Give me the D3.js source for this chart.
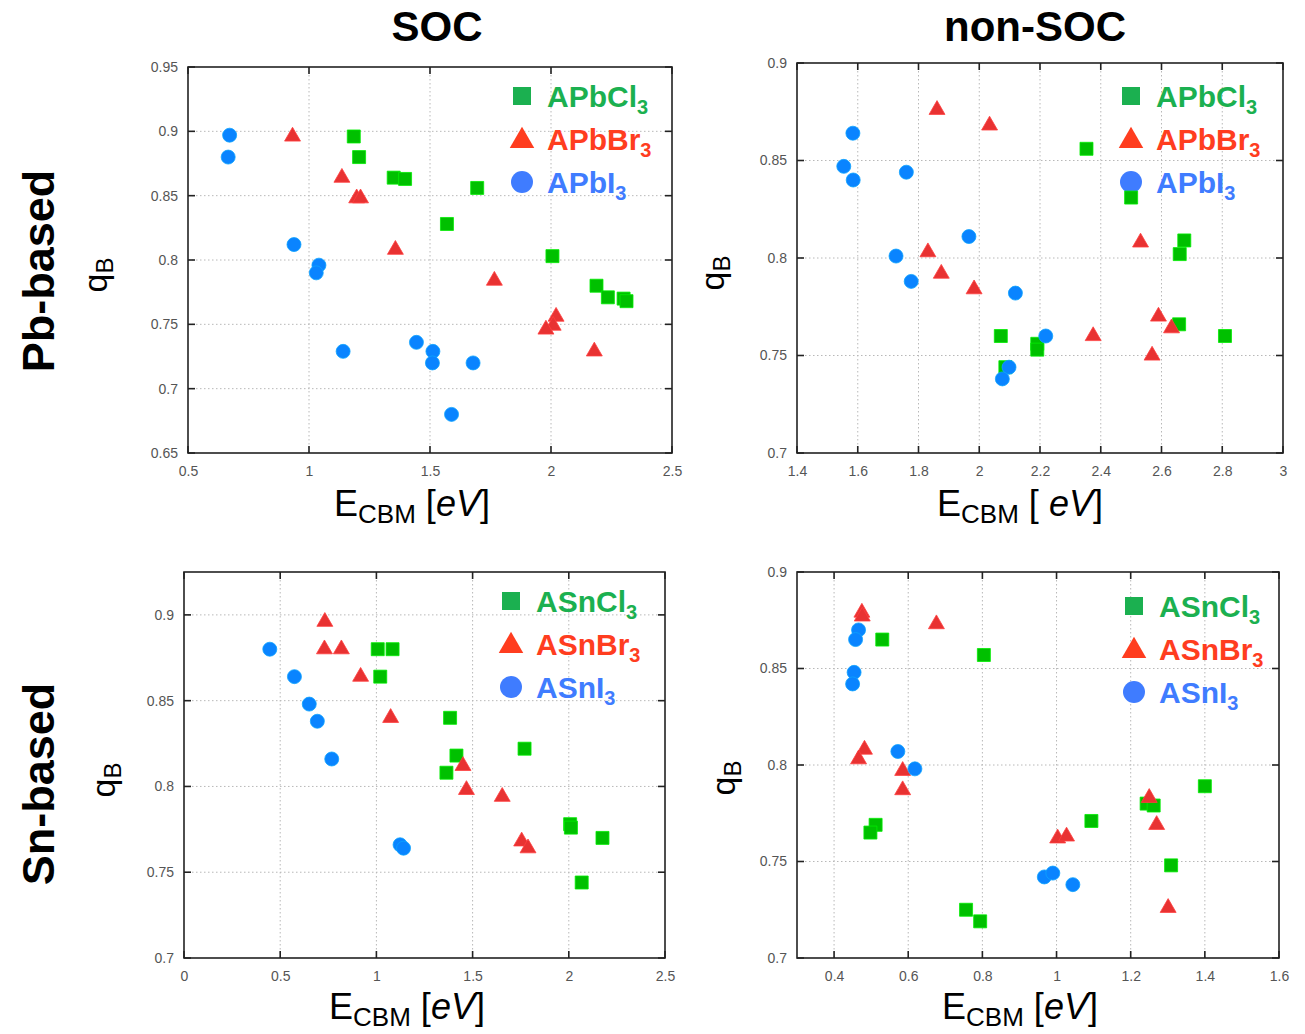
<!DOCTYPE html>
<html lang="en">
<head>
<meta charset="UTF-8">
<title>qB vs ECBM</title>
<style>
  body, html { margin: 0; padding: 0; background: #fff; }
  svg { display: block; }
  .tick-label { font-family: Arial, 'Liberation Sans', sans-serif; font-size: 14px; fill: #555; }
  .grid { stroke: #b8b8b8; stroke-width: 1; stroke-dasharray: 1.5 2.5; }
  .frame { fill: none; stroke: #222; stroke-width: 1.6; }
  .head { font-family: 'Liberation Sans', Arial, sans-serif; font-weight: bold; fill: #000; }
  .axis-title { font-family: Arial, 'Liberation Sans', sans-serif; fill: #000; }
  .legend-text { font-family: Arial, 'Liberation Sans', sans-serif; font-weight: bold; font-size: 30px; }
</style>
</head>
<body>
<div id="chart"></div>
<script src="https://d3js.org/d3.v7.min.js"></script>
<script>
// ---- data: [E_CBM (eV), qB] ----
const socPbCl = [[1.185,0.896],[1.207,0.880],[1.350,0.864],[1.397,0.863],[1.695,0.856],[1.570,0.828],[2.006,0.803],[2.188,0.780],[2.235,0.771],[2.300,0.770],[2.312,0.768]];
const socPbBr = [[0.932,0.896],[1.136,0.864],[1.197,0.848],[1.213,0.848],[1.357,0.808],[1.766,0.784],[2.021,0.756],[2.009,0.749],[1.979,0.746],[2.179,0.729]];
const socPbI  = [[0.672,0.897],[0.666,0.880],[0.938,0.812],[1.041,0.796],[1.030,0.790],[1.141,0.729],[1.444,0.736],[1.512,0.729],[1.510,0.720],[1.678,0.720],[1.589,0.680]];

const nonPbCl = [[2.353,0.856],[2.500,0.831],[2.675,0.809],[2.660,0.802],[2.658,0.766],[2.809,0.760],[2.071,0.760],[2.191,0.756],[2.191,0.753],[2.086,0.744]];
const nonPbBr = [[1.861,0.876],[2.034,0.868],[1.831,0.803],[1.875,0.792],[1.983,0.784],[2.531,0.808],[2.590,0.770],[2.375,0.760],[2.633,0.764],[2.569,0.750]];
const nonPbI  = [[1.584,0.864],[1.554,0.847],[1.585,0.840],[1.760,0.844],[1.966,0.811],[1.726,0.801],[1.776,0.788],[2.119,0.782],[2.219,0.760],[2.098,0.744],[2.076,0.738]];

const socSnCl = [[1.007,0.880],[1.084,0.880],[1.020,0.864],[1.383,0.840],[1.416,0.818],[1.364,0.808],[1.770,0.822],[2.007,0.778],[2.011,0.776],[2.175,0.770],[2.067,0.744]];
const socSnBr = [[0.732,0.896],[0.730,0.880],[0.818,0.880],[0.918,0.864],[1.074,0.840],[1.450,0.812],[1.468,0.798],[1.654,0.794],[1.755,0.768],[1.788,0.764]];
const socSnI  = [[0.446,0.880],[0.574,0.864],[0.651,0.848],[0.693,0.838],[0.768,0.816],[1.123,0.766],[1.141,0.764]];

const nonSnCl = [[0.530,0.865],[0.804,0.857],[0.512,0.769],[0.498,0.765],[1.094,0.771],[1.243,0.780],[1.262,0.779],[1.400,0.789],[1.309,0.748],[0.756,0.725],[0.794,0.719]];
const nonSnBr = [[0.475,0.879],[0.476,0.877],[0.676,0.873],[0.482,0.808],[0.466,0.803],[0.585,0.797],[0.585,0.787],[1.250,0.783],[1.270,0.769],[1.003,0.762],[1.027,0.763],[1.301,0.726]];
const nonSnI  = [[0.466,0.870],[0.458,0.865],[0.454,0.848],[0.450,0.842],[0.572,0.807],[0.618,0.798],[0.967,0.742],[0.990,0.744],[1.044,0.738]];

const pbNames = ["APbCl", "APbBr", "APbI"];
const snNames = ["ASnCl", "ASnBr", "ASnI"];

const ticksX1 = [0.5, 1, 1.5, 2, 2.5];
const ticksY1 = [0.65, 0.7, 0.75, 0.8, 0.85, 0.9, 0.95];
const ticksX2 = [1.4, 1.6, 1.8, 2, 2.2, 2.4, 2.6, 2.8, 3];
const ticksY2 = [0.7, 0.75, 0.8, 0.85, 0.9];
const ticksX3 = [0, 0.5, 1, 1.5, 2, 2.5];
const ticksY3 = [0.7, 0.75, 0.8, 0.85, 0.9];
const ticksX4 = [0.4, 0.6, 0.8, 1, 1.2, 1.4, 1.6];
const ticksY4 = [0.7, 0.75, 0.8, 0.85, 0.9];

const colTitles = ["SOC", "non-SOC"];
const rowTitles = ["Pb-based", "Sn-based"];

// marker colours / legend colours (legend glyphs are a bit lighter)
const markFill = ["#00c000", "#e83232", "#0a84ff"];
const legFill  = ["#1bb050", "#ff3d1f", "#3f7cff"];

const W = 1305, H = 1034;
const svg = d3.select("#chart").append("svg").attr("width", W).attr("height", H);

const panels = [
  { box: [188, 672, 67, 453], xd: [0.5, 2.5], yd: [0.65, 0.95], xt: ticksX1, yt: ticksY1,
    series: [socPbCl, socPbBr, socPbI], names: pbNames, leg: [522, 96], xl: [412, 516], xSpace: false, yl: [107, 275] },
  { box: [797, 1283, 63, 453], xd: [1.4, 3], yd: [0.7, 0.9], xt: ticksX2, yt: ticksY2,
    series: [nonPbCl, nonPbBr, nonPbI], names: pbNames, leg: [1131, 96], xl: [1020, 516], xSpace: true, yl: [724, 273] },
  { box: [184, 665, 572, 958], xd: [0, 2.5], yd: [0.7, 0.925], xt: ticksX3, yt: ticksY3,
    series: [socSnCl, socSnBr, socSnI], names: snNames, leg: [511, 601], xl: [407, 1019], xSpace: false, yl: [115, 780] },
  { box: [797, 1279, 572, 958], xd: [0.3, 1.6], yd: [0.7, 0.9], xt: ticksX4, yt: ticksY4,
    series: [nonSnCl, nonSnBr, nonSnI], names: snNames, leg: [1134, 606], xl: [1020, 1019], xSpace: false, yl: [735, 778] }
];

const fmt = d3.format("~g");
const symbols = [d3.symbolSquare, d3.symbolTriangle, d3.symbolCircle];
const markSize = [169, 110, 154];
const legSize = [324, 260, 380];

panels.forEach(p => {
  const [x0, x1, y0, y1] = p.box;
  const x = d3.scaleLinear().domain(p.xd).range([x0, x1]);
  const y = d3.scaleLinear().domain(p.yd).range([y1, y0]);
  const g = svg.append("g");

  // dotted grid
  g.selectAll(".gx").data(p.xt.filter(t => x(t) > x0 + 1 && x(t) < x1 - 1)).join("line")
    .attr("class", "grid").attr("x1", d => x(d)).attr("x2", d => x(d)).attr("y1", y0).attr("y2", y1);
  g.selectAll(".gy").data(p.yt.filter(t => y(t) > y0 + 1 && y(t) < y1 - 1)).join("line")
    .attr("class", "grid").attr("y1", d => y(d)).attr("y2", d => y(d)).attr("x1", x0).attr("x2", x1);

  // axes: labels only, inward ticks drawn on all four sides
  const ax = g.append("g").attr("transform", `translate(0,${y1})`)
    .call(d3.axisBottom(x).tickValues(p.xt).tickFormat(fmt).tickSize(0).tickPadding(13));
  const ay = g.append("g").attr("transform", `translate(${x0},0)`)
    .call(d3.axisLeft(y).tickValues(p.yt).tickFormat(fmt).tickSize(0).tickPadding(10));
  [ax, ay].forEach(a => {
    a.select(".domain").remove();
    a.selectAll("text").attr("class", "tick-label").attr("font-size", null).attr("font-family", null).attr("fill", null);
  });

  const tl = 7;
  p.xt.forEach(t => {
    g.append("line").attr("x1", x(t)).attr("x2", x(t)).attr("y1", y1).attr("y2", y1 - tl).attr("stroke", "#222").attr("stroke-width", 1.6);
    g.append("line").attr("x1", x(t)).attr("x2", x(t)).attr("y1", y0).attr("y2", y0 + tl).attr("stroke", "#222").attr("stroke-width", 1.6);
  });
  p.yt.forEach(t => {
    g.append("line").attr("y1", y(t)).attr("y2", y(t)).attr("x1", x0).attr("x2", x0 + tl).attr("stroke", "#222").attr("stroke-width", 1.6);
    g.append("line").attr("y1", y(t)).attr("y2", y(t)).attr("x1", x1).attr("x2", x1 - tl).attr("stroke", "#222").attr("stroke-width", 1.6);
  });
  g.append("rect").attr("class", "frame").attr("x", x0).attr("y", y0).attr("width", x1 - x0).attr("height", y1 - y0);

  // legend
  const lg = g.append("g");
  p.names.forEach((n, i) => {
    const ly = p.leg[1] + i * 43;
    lg.append("path").attr("d", d3.symbol(symbols[i], legSize[i])())
      .attr("transform", `translate(${p.leg[0]},${ly + (i === 1 ? 2 : 0)})`).attr("fill", legFill[i]);
    const t = lg.append("text").attr("class", "legend-text").attr("x", p.leg[0] + 25).attr("y", ly + 11).attr("fill", legFill[i]);
    t.append("tspan").text(n);
    t.append("tspan").attr("font-size", 20).attr("dy", 7).text("3");
  });

  // markers: squares, then triangles, then circles on top
  p.series.forEach((s, i) => {
    g.append("g").selectAll("path").data(s).join("path")
      .attr("d", d3.symbol(symbols[i], markSize[i])())
      .attr("transform", d => `translate(${x(d[0])},${y(d[1])})`)
      .attr("fill", markFill[i])
      .attr("stroke", d3.color(markFill[i]).brighter(0.6)).attr("stroke-width", 0.8);
  });

  // axis titles
  const xt = g.append("text").attr("class", "axis-title").attr("text-anchor", "middle")
    .attr("x", p.xl[0]).attr("y", p.xl[1]).attr("font-size", 36);
  xt.append("tspan").text("E");
  xt.append("tspan").attr("font-size", 26).attr("dy", 7).text("CBM");
  xt.append("tspan").attr("dy", -7).text(p.xSpace ? " [ " : " [");
  xt.append("tspan").attr("font-style", "italic").text("eV");
  xt.append("tspan").text("]");

  const yt = g.append("text").attr("class", "axis-title").attr("text-anchor", "middle")
    .attr("transform", `translate(${p.yl[0]},${p.yl[1]}) rotate(-90)`).attr("font-size", 34);
  yt.append("tspan").text("q");
  yt.append("tspan").attr("font-size", 24).attr("dy", 6).text("B");
});

// column and row headings
svg.selectAll(".col").data(colTitles).join("text").attr("class", "head")
  .attr("x", (d, i) => [437, 1035][i]).attr("y", 41).attr("text-anchor", "middle").attr("font-size", 42).text(d => d);
svg.selectAll(".row").data(rowTitles).join("text").attr("class", "head")
  .attr("transform", (d, i) => `translate(54,${[271, 784][i]}) rotate(-90)`)
  .attr("text-anchor", "middle").attr("font-size", 45).text(d => d);
</script>
</body>
</html>
